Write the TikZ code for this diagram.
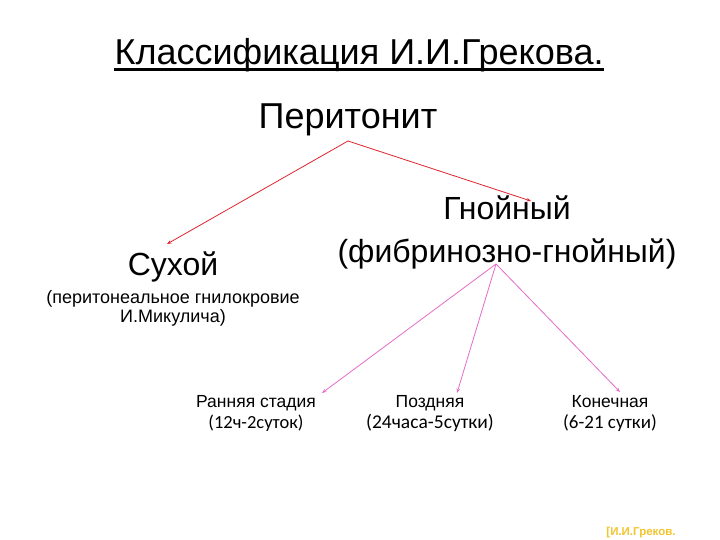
\documentclass[tikz,border=0pt]{standalone}
\usepackage{fontspec}
\setmainfont{Liberation Sans}
\newfontfamily\calib{Carlito}
\usetikzlibrary{arrows.meta}
\definecolor{redarr}{HTML}{E02530}
\definecolor{pinkarr}{HTML}{E66CC8}
\definecolor{gold}{HTML}{F2C530}
\tikzset{
  lbl/.style={inner sep=0pt, anchor=base, align=center, text=black},
  redline/.style={draw=redarr, line width=0.8pt, -{Stealth[length=4.5pt,width=3.5pt]}},
  pinkline/.style={draw=pinkarr, line width=0.8pt, -{Stealth[length=4.5pt,width=3.5pt]}},
}
\begin{document}
\begin{tikzpicture}[x=1pt,y=-1pt]
\useasboundingbox (0,0) rectangle (720,540);
\fill[white] (0,0) rectangle (720,540);
\node[lbl, font=\fontsize{36}{40}\selectfont] (title) at (359,65) {Классификация И.И.Грекова.};
\draw[line width=2.2pt] ([yshift=-4.5pt]title.base west) -- ([yshift=-4.5pt]title.base east);
\node[lbl, font=\fontsize{36}{40}\selectfont] (peri) at (348,129) {Перитонит};
\node[lbl, font=\fontsize{32}{36}\selectfont] (gn1) at (507,220) {Гнойный};
\node[lbl, font=\fontsize{32}{36}\selectfont] (gn2) at (507,262) {(фибринозно-гнойный)};
\node[lbl, font=\fontsize{32}{36}\selectfont] (dry) at (173,275) {Сухой};
\node[lbl, font=\fontsize{18}{20}\selectfont] (dry2) at (173,303) {(перитонеальное гнилокровие};
\node[lbl, font=\fontsize{18}{20}\selectfont] (dry3) at (173,322) {И.Микулича)};
\node[lbl, font=\fontsize{17.5}{20}\selectfont] (e1) at (256,407) {Ранняя стадия};
\node[lbl, font=\calib\fontsize{18.5}{20}\selectfont] (e2) at (256,428) {(12ч-2суток)};
\node[lbl, font=\fontsize{17.5}{20}\selectfont] (l1) at (430,407) {Поздняя};
\node[lbl, font=\calib\fontsize{19.5}{20}\selectfont] (l2) at (430,428) {(24часа-5сутки)};
\node[lbl, font=\fontsize{17.5}{20}\selectfont] (f1) at (610,407) {Конечная};
\node[lbl, font=\calib\fontsize{19}{20}\selectfont] (f2) at (610,428) {(6-21 сутки)};
\node[lbl, text=gold, font=\bfseries\fontsize{11.5}{13}\selectfont] (ref) at (641,535) {[И.И.Греков.};
\coordinate (ps) at (348,141);
\coordinate (dryT) at (167,244);
\coordinate (gnT) at (531,201);
\coordinate (gs) at (496,264);
\coordinate (eT) at (322,393);
\coordinate (lT) at (457,393);
\coordinate (fT) at (620,392);
\draw[redline] (ps) -- (dryT);
\draw[redline] (ps) -- (gnT);
\draw[pinkline] (gs) -- (eT);
\draw[pinkline] (gs) -- (lT);
\draw[pinkline] (gs) -- (fT);
\end{tikzpicture}
\end{document}
